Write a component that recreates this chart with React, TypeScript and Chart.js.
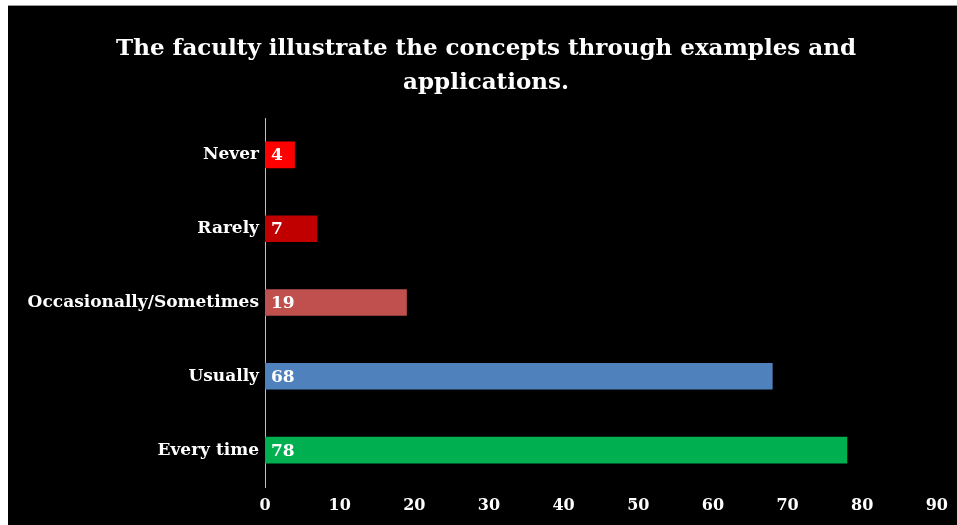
import React, { useEffect, useRef } from "react";
import { Chart, registerables } from "chart.js";

Chart.register(...registerables);

const categories = ["Never", "Rarely", "Occasionally/Sometimes", "Usually", "Every time"];
const values = [4, 7, 19, 68, 78];
const barColors = ["#FF0000", "#C00000", "#C0504D", "#4F81BD", "#00B050"];
const titleLines = ["The faculty illustrate the concepts through examples and", "applications."];
const xMax = 90;
const xStep = 10;

const FONT = "'DejaVu Serif', serif";

const titlePlugin = {
  id: "customTitle",
  afterDraw(chart: any) {
    const ctx = chart.ctx;
    ctx.save();
    ctx.fillStyle = "#FFFFFF";
    ctx.font = `bold 23px ${FONT}`;
    ctx.textAlign = "center";
    ctx.textBaseline = "middle";
    const cx = 478;
    titleLines.forEach((line, i) => {
      ctx.fillText(line, cx, 43 + i * 34);
    });
    ctx.restore();
  },
};

const labelPlugin = {
  id: "barLabels",
  afterDatasetsDraw(chart: any) {
    const ctx = chart.ctx;
    const meta = chart.getDatasetMeta(0);
    ctx.save();
    ctx.fillStyle = "#FFFFFF";
    ctx.font = `bold 17px ${FONT}`;
    ctx.textAlign = "left";
    ctx.textBaseline = "middle";
    meta.data.forEach((bar: any, i: number) => {
      const x0 = chart.scales.x.getPixelForValue(0);
      ctx.fillText(String(values[i]), x0 + 6, bar.y + 1);
    });
    ctx.restore();
  },
};

export default function App() {
  const ref = useRef<HTMLCanvasElement>(null);
  useEffect(() => {
    if (!ref.current) return;
    const chart = new Chart(ref.current, {
      type: "bar",
      data: {
        labels: categories,
        datasets: [
          {
            data: values,
            backgroundColor: barColors,
            borderWidth: 0,
            barPercentage: 0.72,
            categoryPercentage: 0.5,
          },
        ],
      },
      options: {
        indexAxis: "y",
        animation: false,
        responsive: false,
        layout: { padding: { top: 112, right: 20, left: 0, bottom: 0 } },
        plugins: { legend: { display: false }, tooltip: { enabled: false }, title: { display: false } },
        scales: {
          x: {
            min: 0,
            max: xMax,
            ticks: { stepSize: xStep, color: "#FFFFFF", font: { family: FONT, size: 16, weight: "bold" }, padding: 9 },
            grid: { display: false, drawTicks: false },
            border: { display: false },
            afterFit: (s: any) => {
              s.height = 38;
            },
          },
          y: {
            ticks: { color: "#FFFFFF", font: { family: FONT, size: 17, weight: "bold" }, padding: 6 },
            grid: { display: false, drawTicks: false },
            border: { display: true, color: "#BFBFBF", width: 1 },
            afterFit: (s: any) => {
              s.width = 257;
            },
          },
        },
      },
      plugins: [titlePlugin, labelPlugin],
    });
    return () => chart.destroy();
  }, []);
  return (
    <div style={{ position: "absolute", left: 8, top: 5, background: "#000", width: 949, height: 520, borderTop: "1px solid #999" }}>
      <canvas ref={ref} width={949} height={519} style={{ display: "block" }} />
    </div>
  );
}
